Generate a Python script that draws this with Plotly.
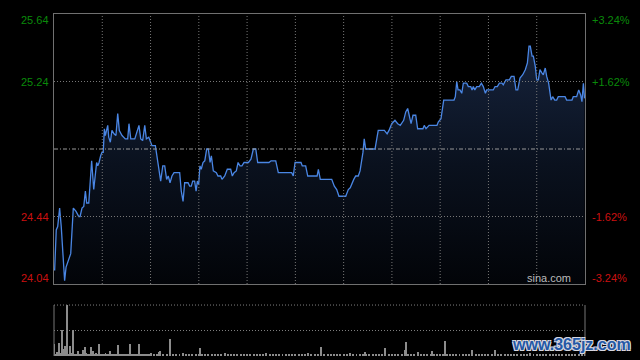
import plotly.graph_objects as go

# ---------------- data ----------------
prev_close = 24.84
y_low, y_high = 24.04, 25.64
session_minutes = 330

price_minute = [0.4,1.4,2.3,3.5,4.5,5.6,6.6,7.5,9.1,10.4,
12.0,13.7,15.4,16.2,17.4,18.5,19.5,20.3,21.6,23.4,
24.7,26.5,27.2,28.0,29.0,29.8,30.6,31.3,31.9,32.5,
33.4,34.0,35.0,36.0,37.3,38.5,39.6,40.6,42.3,44.3,
45.8,46.6,47.7,50.2,51.6,52.8,53.9,55.1,56.4,57.4,
58.9,60.1,60.9,63.0,64.6,66.3,67.6,68.8,70.0,71.0,
72.1,73.3,74.6,78.1,79.1,80.2,81.2,83.3,84.3,85.3,
86.2,87.4,88.3,89.1,89.9,90.7,91.5,92.6,93.7,94.9,
95.9,97.0,97.8,99.0,100.9,101.9,103.6,104.4,106.1,107.7,
109.8,110.8,111.9,113.3,114.4,115.6,116.8,118.1,120.8,122.4,
123.9,125.4,126.6,133.6,134.9,137.8,139.4,147.7,148.7,149.8,
153.5,154.3,156.4,157.7,163.5,164.3,165.5,172.6,174.2,175.7,
177.1,181.3,182.9,184.1,186.3,187.5,189.1,190.2,192.0,192.8,
193.7,199.5,201.5,205.3,207.0,208.2,209.9,211.9,213.6,215.2,
217.3,218.6,219.8,220.6,221.9,223.1,224.8,226.0,229.3,230.1,
231.2,233.1,238.0,238.8,240.5,242.2,243.0,248.6,249.4,250.3,
251.1,252.3,253.4,254.4,256.5,257.5,259.0,259.8,260.6,261.5,
262.7,264.3,265.6,266.8,268.1,268.9,273.0,274.1,275.5,276.8,
278.4,279.2,280.9,283.0,284.2,285.9,287.1,288.2,289.6,291.3,
292.9,294.2,295.2,296.0,297.1,297.9,299.1,300.0,301.0,302.0,
303.3,304.1,305.3,306.2,307.4,308.9,309.9,311.2,312.4,313.4,
317.6,318.6,321.9,322.7,324.8,326.1,327.3,328.1,329.0,329.7]

price_value = [24.12,24.36,24.38,24.49,24.38,24.22,24.06,24.14,24.18,24.22,
24.49,24.47,24.44,24.44,24.49,24.50,24.59,24.52,24.52,24.77,
24.60,24.76,24.74,24.76,24.80,24.82,24.82,24.96,24.92,24.95,
24.98,24.91,24.88,24.95,24.93,24.92,25.05,24.95,24.92,24.90,
24.90,24.99,24.90,24.90,24.95,24.98,24.90,24.89,24.98,24.90,
24.91,24.88,24.86,24.86,24.76,24.65,24.74,24.74,24.66,24.68,
24.64,24.68,24.70,24.70,24.59,24.53,24.64,24.64,24.62,24.62,
24.65,24.65,24.59,24.65,24.63,24.74,24.72,24.76,24.77,24.84,
24.84,24.76,24.80,24.71,24.70,24.68,24.68,24.66,24.68,24.72,
24.72,24.68,24.70,24.71,24.76,24.74,24.74,24.76,24.76,24.78,
24.84,24.84,24.76,24.76,24.77,24.77,24.70,24.70,24.68,24.76,
24.76,24.74,24.74,24.68,24.68,24.72,24.66,24.66,24.62,24.60,
24.56,24.56,24.60,24.61,24.66,24.68,24.68,24.71,24.82,24.90,
24.84,24.84,24.95,24.95,24.93,24.95,24.99,25.01,24.99,24.98,
25.01,25.06,25.08,25.05,24.99,25.04,25.04,24.96,24.96,24.98,
24.96,24.98,24.98,25.00,25.02,25.13,25.13,25.13,25.15,25.24,
25.19,25.19,25.17,25.23,25.23,25.21,25.21,25.19,25.21,25.19,
25.21,25.21,25.23,25.21,25.17,25.19,25.19,25.21,25.21,25.23,
25.23,25.22,25.25,25.25,25.27,25.27,25.19,25.19,25.26,25.28,
25.31,25.35,25.45,25.45,25.39,25.39,25.33,25.25,25.25,25.31,
25.29,25.28,25.32,25.27,25.23,25.13,25.15,25.13,25.13,25.15,
25.15,25.13,25.13,25.15,25.15,25.19,25.16,25.12,25.23,25.14]

vol_minute = [0,1,2,3,4,5,6,7,8,9,10,11,12,13,14,15,16,17,18,19,20,
21,22,23,24,25,26,27,28,29,30,31,32,33,34,35,36,37,38,39,40,
41,42,43,44,45,46,47,48,49,50,51,52,53,54,55,56,57,58,59,60,
62,64,65,66,68,70,72,74,76,78,80,82,84,86,88,90,91,92,94,96,98,100,
102,104,106,108,110,112,114,116,118,120,122,124,126,128,130,132,134,136,138,140,
142,144,146,148,150,152,154,156,158,160,162,164,166,168,170,172,174,176,178,180,
182,184,186,188,190,192,193,194,196,198,200,202,204,206,208,210,212,214,216,218,219,220,
222,224,226,228,230,232,234,235,236,238,240,242,243,244,246,248,250,252,254,256,258,260,
262,264,266,268,270,272,274,276,278,280,282,284,286,288,290,292,294,296,298,300,
302,304,306,308,310,312,314,316,318,320,322,324,326,328,330]

vol_value = [117,20,40,127,30,253,73,93,500,15,100,30,253,10,20,50,10,15,60,87,30,
10,15,87,50,15,25,10,120,20,15,10,25,15,20,50,10,15,20,10,110,
15,10,20,10,15,10,113,20,10,15,10,20,120,15,10,20,10,15,10,25,
15,20,43,50,10,15,167,20,10,15,25,10,15,20,10,15,80,10,20,15,10,20,
15,10,25,10,15,20,10,15,10,20,15,10,20,15,10,25,10,15,20,10,
15,10,20,15,10,20,15,10,25,10,15,20,90,15,10,20,15,10,20,15,
10,25,10,15,20,10,40,15,10,20,15,10,20,75,15,10,20,15,10,63,133,20,
15,10,40,15,20,10,15,45,20,10,15,20,143,10,15,10,20,15,10,20,15,55,
10,20,15,10,20,15,55,10,20,15,10,20,15,10,20,15,10,25,15,10,
20,15,10,20,15,10,20,15,10,20,15,10,20,15,10]

grid_minutes = [30, 60, 90, 120, 150, 180, 210, 240, 270, 300]
grid_prices = [24.44, 25.24]
axis_levels = [25.64, 25.24, 24.44, 24.04]
left_labels = ["25.64", "25.24", "24.44", "24.04"]
right_labels = ["+3.24%", "+1.62%", "-1.62%", "-3.24%"]
label_colors = ["#0a8a0a", "#0a8a0a", "#cc1010", "#cc1010"]
label_yshift = [-6, 0, 0, 6]

# ---------------- figure ----------------
fig = go.Figure()

fig.add_trace(go.Scatter(
    x=price_minute, y=price_value, mode="lines",
    line=dict(color="#4a86e4", width=1.3),
    fill="tozeroy",
    fillgradient=dict(type="vertical", start=y_low, stop=25.45,
                      colorscale=[[0, "rgb(2,4,8)"], [0.5, "rgb(10,17,30)"], [1, "rgb(22,35,60)"]]),
    xaxis="x", yaxis="y", hoverinfo="skip", showlegend=False))

fig.add_trace(go.Bar(
    x=vol_minute, y=vol_value, width=0.6,
    marker=dict(color="#8c8c8c", line_width=0),
    xaxis="x2", yaxis="y2", hoverinfo="skip", showlegend=False))

GRID_DASH = "1px,2px"
shapes = []
for m in grid_minutes:
    shapes.append(dict(type="line", xref="x", yref="y domain", x0=m, x1=m, y0=0, y1=1,
                       line=dict(color="#777777", width=1, dash=GRID_DASH), layer="above"))
for p in grid_prices:
    shapes.append(dict(type="line", xref="x domain", yref="y", x0=0, x1=1, y0=p, y1=p,
                       line=dict(color="#777777", width=1, dash=GRID_DASH), layer="above"))
shapes.append(dict(type="line", xref="x domain", yref="y", x0=0, x1=1, y0=prev_close, y1=prev_close,
                   line=dict(color="#999999", width=1, dash="4px,2px,1px,2px"), layer="above"))
# volume panel frame
shapes.append(dict(type="line", xref="x2 domain", yref="y2 domain", x0=0, x1=1, y0=1, y1=1,
                   line=dict(color="#808080", width=1, dash=GRID_DASH), layer="above"))
shapes.append(dict(type="line", xref="x2 domain", yref="y2 domain", x0=0, x1=1, y0=0.5, y1=0.5,
                   line=dict(color="#808080", width=1, dash=GRID_DASH), layer="above"))
shapes.append(dict(type="line", xref="x2 domain", yref="y2 domain", x0=0, x1=0, y0=0, y1=1,
                   line=dict(color="#777777", width=1), layer="above"))
shapes.append(dict(type="line", xref="x2 domain", yref="y2 domain", x0=1, x1=1, y0=0, y1=1,
                   line=dict(color="#777777", width=1), layer="above"))

annotations = []
for lvl, lt, rt, col, ys in zip(axis_levels, left_labels, right_labels, label_colors, label_yshift):
    annotations.append(dict(xref="paper", yref="y", x=0, y=lvl, text=lt, showarrow=False,
                            xanchor="right", yanchor="middle", xshift=-3, yshift=ys,
                            font=dict(family="Liberation Sans, Arial", size=11, color=col)))
    annotations.append(dict(xref="paper", yref="y", x=1, y=lvl, text=rt, showarrow=False,
                            xanchor="left", yanchor="middle", xshift=5, yshift=ys,
                            font=dict(family="Liberation Sans, Arial", size=11, color=col)))
annotations.append(dict(xref="paper", yref="y", x=0.977, y=y_low, text="sina.com", showarrow=False,
                        xanchor="right", yanchor="middle", yshift=6,
                        font=dict(family="Liberation Sans, Arial", size=11, color="#bbbbbb")))
annotations.append(dict(xref="paper", yref="paper", x=1.09, y=0.035, text="<b>www.365jz.com</b>",
                        showarrow=False, xanchor="right", yanchor="middle",
                        font=dict(family="Liberation Sans, Arial", size=16, color="#2458a6",
                                  shadow="1px 1px 0 #d8d8e0, -1px -1px 0 #d8d8e0, 1px -1px 0 #d8d8e0, -1px 1px 0 #d8d8e0")))

fig.update_layout(
    width=640, height=360,
    margin=dict(l=54, r=55, t=14, b=4),
    paper_bgcolor="#000000", plot_bgcolor="#000000",
    bargap=0,
    xaxis=dict(domain=[0, 1], range=[0, session_minutes], anchor="y",
               showgrid=False, zeroline=False, showticklabels=False, ticks="",
               showline=True, mirror=True, linecolor="#707070", linewidth=1),
    yaxis=dict(domain=[0.2105, 1], range=[y_low, y_high], anchor="x",
               showgrid=False, zeroline=False, showticklabels=False, ticks="",
               showline=True, mirror=True, linecolor="#707070", linewidth=1),
    xaxis2=dict(domain=[0, 1], range=[0, session_minutes], anchor="y2",
                showgrid=False, zeroline=False, showticklabels=False, ticks="", showline=False),
    yaxis2=dict(domain=[0, 0.149], range=[0, 500], anchor="x2",
                showgrid=False, zeroline=False, showticklabels=False, ticks="", showline=False),
    shapes=shapes,
    annotations=annotations,
)

fig.write_html("out.html", config={"displayModeBar": False})
